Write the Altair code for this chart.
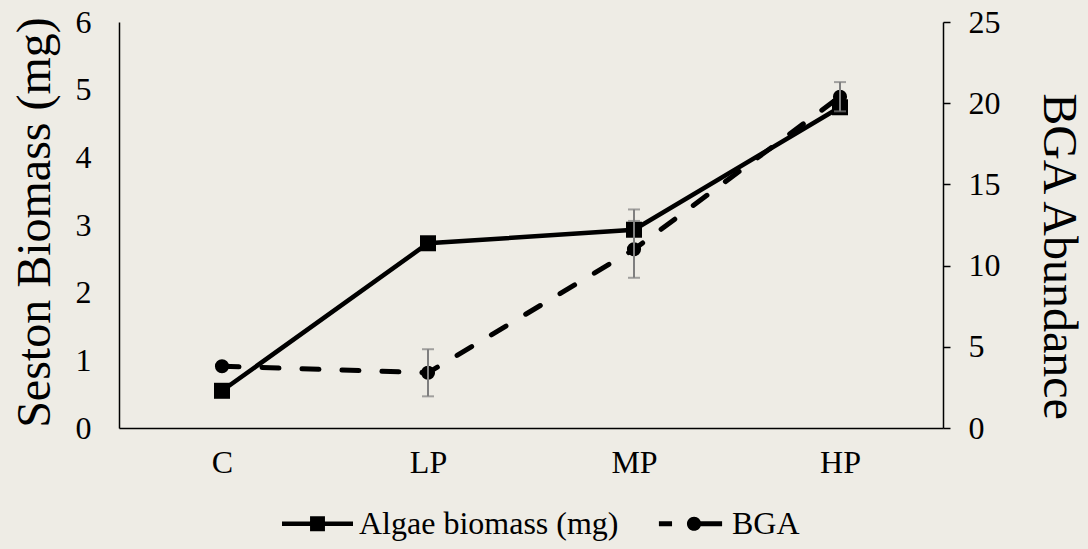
import altair as alt
import pandas as pd

# Treatment groups and measured values
groups = ["C", "LP", "MP", "HP"]
algae_mg = [0.55, 2.73, 2.93, 4.74]
algae_se = [0.0, 0.0, 0.30, 0.0]
bga_abund = [3.8, 3.4, 11.0, 20.4]
bga_se = [0.0, 1.45, 1.75, 0.9]
series_names = ["Algae biomass (mg)", "BGA"]

left_ticks = [0, 1, 2, 3, 4, 5, 6]
right_ticks = [0, 5, 10, 15, 20, 25]

df = pd.DataFrame({
    "idx": list(range(len(groups))),
    "group": groups,
    "algae": algae_mg,
    "algae_se": algae_se,
    "bga": bga_abund,
    "bga_se": bga_se,
})
df["algae_lo"] = df["algae"] - df["algae_se"]
df["algae_hi"] = df["algae"] + df["algae_se"]
df["bga_lo"] = df["bga"] - df["bga_se"]
df["bga_hi"] = df["bga"] + df["bga_se"]

FONT = "Liberation Serif"
ERR = "#7f7f7f"
INK = "black"
LABEL_SIZE = 32

# Legend glyphs built from filled shapes: line with a square marker,
# and a broken line with a round marker
ALGAE_SYMBOL = ("M-1,-0.065H1V0.065H-1Z"
                "M-0.21,-0.21H0.21V0.21H-0.21Z")
BGA_SYMBOL = ("M-0.89,-0.07H-0.52V0.07H-0.89Z"
              "M0.1,-0.07H0.89V0.07H0.1Z"
              "M0.3,0A0.2,0.2 0 1,1 -0.1,0A0.2,0.2 0 1,1 0.3,0Z")

x_enc = alt.X(
    "group:N",
    sort=groups,
    scale=alt.Scale(type="point", padding=0.5),
    axis=alt.Axis(
        title=None, labelAngle=0, ticks=False, tickSize=0, labelPadding=19,
        labelFont=FONT, labelFontSize=LABEL_SIZE, labelColor=INK,
        domainColor=INK, domainWidth=1.5, grid=False,
    ),
)

left_scale = alt.Scale(domain=[0, 6], nice=False, zero=True)
left_axis = alt.Axis(
    orient="left", values=left_ticks, ticks=False, tickSize=0, labelPadding=28,
    labelFont=FONT, labelFontSize=LABEL_SIZE, labelColor=INK,
    domainColor=INK, domainWidth=1.5, grid=False,
    title="Seston Biomass (mg)", titleFont=FONT, titleFontSize=48,
    titleFontWeight="normal", titleColor=INK,
    titleAngle=270, titleBaseline="alphabetic", titleAlign="center",
    titleX=-70, titleY=200,
)

right_scale = alt.Scale(domain=[0, 25], nice=False, zero=True)
right_axis = alt.Axis(
    orient="right", values=right_ticks, ticks=True, tickSize=7, tickWidth=1.5,
    tickColor=INK, labelPadding=18,
    labelFont=FONT, labelFontSize=LABEL_SIZE, labelColor=INK,
    domainColor=INK, domainWidth=1.5, grid=False,
    title="BGA Abundance", titleFont=FONT, titleFontSize=48,
    titleFontWeight="normal", titleColor=INK,
    titleAngle=90, titleBaseline="alphabetic", titleAlign="center",
    titleX=100, titleY=234,
)

base = alt.Chart(df)


def y_left(field):
    return alt.Y(f"{field}:Q", scale=left_scale, axis=left_axis)


def y_right(field):
    return alt.Y(f"{field}:Q", scale=right_scale, axis=right_axis)


# Algae biomass (left axis)
algae_line = base.mark_line(color=INK, strokeWidth=4.5).encode(
    x=x_enc, y=y_left("algae"), order=alt.Order("idx:Q")
)
algae_pts = base.mark_point(shape="square", filled=True, size=256, color=INK, opacity=1).encode(
    x=x_enc, y=y_left("algae")
)
algae_err = base.transform_filter(alt.datum.algae_se > 0)
algae_rule = algae_err.mark_rule(color=ERR, strokeWidth=2).encode(
    x=x_enc, y=y_left("algae_lo"), y2="algae_hi:Q"
)
algae_cap_lo = algae_err.mark_tick(color=ERR, size=12, thickness=2, orient="horizontal").encode(
    x=x_enc, y=y_left("algae_lo")
)
algae_cap_hi = algae_err.mark_tick(color=ERR, size=12, thickness=2, orient="horizontal").encode(
    x=x_enc, y=y_left("algae_hi")
)

# Legend entries (marks sit off-canvas; only the legend shows them)
legend_df = pd.DataFrame({"series": series_names})
legend_layer = alt.Chart(legend_df).mark_point(filled=True, color=INK).encode(
    x=alt.value(-600),
    y=alt.value(-600),
    shape=alt.Shape(
        "series:N",
        scale=alt.Scale(domain=series_names, range=[ALGAE_SYMBOL, BGA_SYMBOL]),
        legend=alt.Legend(
            title=None, orient="none", direction="horizontal",
            legendX=163, legendY=466, padding=0,
            labelFont=FONT, labelFontSize=LABEL_SIZE, labelColor=INK, labelLimit=600,
            labelOffset=6, columnPadding=36,
            symbolSize=5041, symbolStrokeWidth=0,
            symbolFillColor=INK, symbolOpacity=1,
        ),
    ),
)

left_group = alt.layer(
    algae_line, algae_pts, legend_layer, algae_rule, algae_cap_lo, algae_cap_hi
)

# BGA abundance (right axis)
bga_line = base.mark_line(
    color=INK, strokeWidth=5, strokeDash=[17, 23], strokeCap="round"
).encode(x=x_enc, y=y_right("bga"), order=alt.Order("idx:Q"))
bga_pts = base.mark_point(shape="circle", filled=True, size=200, color=INK, opacity=1).encode(
    x=x_enc, y=y_right("bga")
)
bga_err = base.transform_filter(alt.datum.bga_se > 0)
bga_rule = bga_err.mark_rule(color=ERR, strokeWidth=2).encode(
    x=x_enc, y=y_right("bga_lo"), y2="bga_hi:Q"
)
bga_cap_lo = bga_err.mark_tick(color=ERR, size=12, thickness=2, orient="horizontal").encode(
    x=x_enc, y=y_right("bga_lo")
)
bga_cap_hi = bga_err.mark_tick(color=ERR, size=12, thickness=2, orient="horizontal").encode(
    x=x_enc, y=y_right("bga_hi")
)

right_group = alt.layer(bga_line, bga_pts, bga_rule, bga_cap_lo, bga_cap_hi)

chart = (
    alt.layer(left_group, right_group)
    .resolve_scale(y="independent")
    .properties(
        width=824,
        height=406,
        autosize=alt.AutoSizeParams(type="none"),
        padding={"left": 119, "top": 22, "right": 145, "bottom": 121},
        background="#EEECE5",
    )
    .configure_view(stroke=None)
)

chart.save("out.html", embed_options={"renderer": "svg", "actions": False})
